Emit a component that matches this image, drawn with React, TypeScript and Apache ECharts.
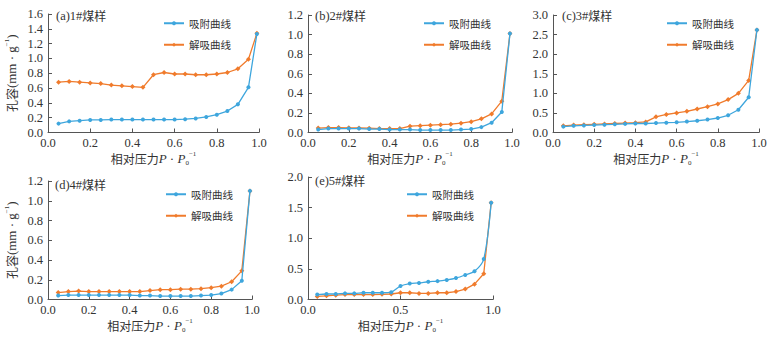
import React, { useEffect, useRef } from "react";
import * as echarts from "echarts";

const P = [0.05, 0.1, 0.15, 0.2, 0.25, 0.3, 0.35, 0.4, 0.45, 0.5, 0.55, 0.6, 0.65, 0.7, 0.75, 0.8, 0.85, 0.9, 0.95, 0.99];

const titles = ["(a)1#煤样", "(b)2#煤样", "(c)3#煤样", "(d)4#煤样", "(e)5#煤样"];

const adsA = [0.12, 0.15, 0.16, 0.17, 0.17, 0.175, 0.175, 0.175, 0.175, 0.175, 0.175, 0.175, 0.18, 0.19, 0.21, 0.24, 0.29, 0.38, 0.61, 1.33];
const desA = [0.68, 0.69, 0.68, 0.67, 0.66, 0.64, 0.63, 0.62, 0.61, 0.78, 0.81, 0.79, 0.79, 0.78, 0.78, 0.79, 0.81, 0.86, 0.99, 1.34];

const adsB = [0.03, 0.04, 0.04, 0.04, 0.04, 0.035, 0.035, 0.03, 0.03, 0.03, 0.025, 0.025, 0.025, 0.025, 0.03, 0.035, 0.055, 0.1, 0.21, 1.01];
const desB = [0.045, 0.05, 0.05, 0.048, 0.046, 0.044, 0.04, 0.04, 0.04, 0.065, 0.07, 0.075, 0.08, 0.085, 0.095, 0.11, 0.14, 0.19, 0.32, 1.01];

const adsC = [0.15, 0.17, 0.18, 0.19, 0.2, 0.21, 0.22, 0.23, 0.23, 0.24, 0.25, 0.26, 0.28, 0.3, 0.33, 0.37, 0.44, 0.58, 0.9, 2.62];
const desC = [0.17, 0.19, 0.2, 0.21, 0.22, 0.23, 0.24, 0.25, 0.27, 0.4, 0.46, 0.5, 0.54, 0.6, 0.66, 0.73, 0.84, 1.0, 1.33, 2.62];

const adsD = [0.04, 0.045, 0.045, 0.045, 0.045, 0.045, 0.045, 0.045, 0.04, 0.04, 0.035, 0.035, 0.035, 0.035, 0.04, 0.045, 0.06, 0.1, 0.19, 1.1];
const desD = [0.07, 0.08, 0.085, 0.08, 0.08, 0.08, 0.08, 0.08, 0.08, 0.09, 0.1, 0.1, 0.105, 0.105, 0.11, 0.12, 0.135, 0.18, 0.29, 1.1];

const adsE = [0.08, 0.09, 0.09, 0.1, 0.1, 0.11, 0.11, 0.11, 0.12, 0.22, 0.26, 0.27, 0.29, 0.3, 0.32, 0.35, 0.4, 0.46, 0.66, 1.58];
const desE = [0.05, 0.06, 0.07, 0.08, 0.08, 0.08, 0.08, 0.085, 0.09, 0.11, 0.11, 0.1, 0.1, 0.11, 0.11, 0.13, 0.17, 0.25, 0.42, 1.58];

const yMax = [1.6, 1.2, 3.0, 1.2, 2.0];
const yInterval = [0.2, 0.2, 0.5, 0.2, 0.5];
const xInterval = [0.2, 0.2, 0.2, 0.2, 0.5];

const adsAll = [adsA, adsB, adsC, adsD, adsE];
const desAll = [desA, desB, desC, desD, desE];

const ADS_NAME = "吸附曲线";
const DES_NAME = "解吸曲线";

const BLUE = "#3ea6dd";
const ORANGE = "#f07b2c";
const SERIF = "Liberation Serif, Times New Roman, serif";
const CJK = "Noto Sans CJK SC";

const grids = [
  { left: 48, top: 14, width: 211, height: 118.5 },
  { left: 308, top: 15, width: 204, height: 117.5 },
  { left: 553, top: 15, width: 206, height: 117.5 },
  { left: 48, top: 181, width: 204, height: 118.5 },
  { left: 308, top: 177, width: 185, height: 122.5 },
];

const titlePos = [
  { left: 56, top: 9 },
  { left: 315, top: 9 },
  { left: 562, top: 9 },
  { left: 55, top: 178 },
  { left: 315, top: 174 },
];

const legendPos = [
  { left: 163, top: 18 },
  { left: 423, top: 18 },
  { left: 666, top: 18 },
  { left: 165, top: 189 },
  { left: 406, top: 189 },
];

const richName = {
  c: { fontFamily: CJK, fontSize: 12, color: "#333", lineHeight: 16 },
  i: { fontFamily: SERIF, fontStyle: "italic", fontSize: 13, color: "#333", lineHeight: 16 },
  d: { fontFamily: SERIF, fontSize: 13, color: "#333", lineHeight: 16 },
  s: { fontFamily: SERIF, fontSize: 7, color: "#333", verticalAlign: "bottom", lineHeight: 16 },
  p: { fontFamily: SERIF, fontSize: 7, color: "#333", verticalAlign: "top", lineHeight: 16 },
};

export default function App() {
  const ref = useRef<HTMLDivElement>(null);
  useEffect(() => {
    if (!ref.current) return;
    const chart = echarts.init(ref.current, null, { renderer: "svg" });
    const fmt = (v: number) => v.toFixed(1);
    const axisCommon = {
      axisLine: { show: true, lineStyle: { color: "#555", width: 1 } },
      axisTick: { show: true, inside: true, length: 4, lineStyle: { color: "#555" } },
      splitLine: { show: false },
      axisLabel: { fontFamily: SERIF, fontSize: 12.5, color: "#333", formatter: fmt },
    };
    const option: any = {
      animation: false,
      backgroundColor: "#fff",
      grid: grids.map((g) => ({ ...g, containLabel: false })),
      title: titles.map((t, i) => ({
        text: "{d|" + t.slice(0, 5) + "}{c|" + t.slice(5) + "}",
        left: titlePos[i].left,
        top: titlePos[i].top,
        padding: 0,
        textStyle: {
          fontSize: 12,
          fontWeight: "normal",
          color: "#333",
          rich: {
            d: { fontFamily: SERIF, fontSize: 12.5, color: "#333" },
            c: { fontFamily: CJK, fontSize: 12, color: "#333" },
          },
        },
      })),
      legend: legendPos.map((lp) => ({
        data: [ADS_NAME, DES_NAME],
        left: lp.left,
        top: lp.top,
        orient: "vertical",
        itemWidth: 20,
        itemHeight: 5,
        itemGap: 11,
        padding: 0,
        textStyle: { fontFamily: CJK, fontSize: 10.5, color: "#333" },
      })),
      xAxis: grids.map((_, i) => ({
        type: "value",
        gridIndex: i,
        min: 0,
        max: 1,
        interval: xInterval[i],
        ...axisCommon,
        axisLabel: { ...axisCommon.axisLabel, margin: 4 },
        name: "{c|相对压力}{i|P}{d| · }{i|P}{s|0}{p|−1}",
        nameLocation: "middle",
        nameGap: 16,
        nameTextStyle: { rich: richName },
      })),
      yAxis: grids.map((_, i) => ({
        type: "value",
        gridIndex: i,
        min: 0,
        max: yMax[i],
        interval: yInterval[i],
        ...axisCommon,
        axisLabel: { ...axisCommon.axisLabel, margin: 5 },
        name: i === 0 || i === 3 ? "{c|孔容}{d|(mm · g}{p|−1}{d|)}" : "",
        nameLocation: "middle",
        nameGap: 29,
        nameTextStyle: { rich: richName },
      })),
      series: [] as any[],
    };
    for (let i = 0; i < 5; i++) {
      option.series.push({
        type: "line",
        name: ADS_NAME,
        xAxisIndex: i,
        yAxisIndex: i,
        data: P.map((x, j) => [x, adsAll[i][j]]),
        symbol: "circle",
        symbolSize: 4,
        smooth: i === 4 ? 0.3 : false,
        lineStyle: { color: BLUE, width: 1.3 },
        itemStyle: { color: BLUE },
        z: 3,
      });
      option.series.push({
        type: "line",
        name: DES_NAME,
        xAxisIndex: i,
        yAxisIndex: i,
        data: P.map((x, j) => [x, desAll[i][j]]),
        symbol: "diamond",
        symbolSize: 5,
        lineStyle: { color: ORANGE, width: 1.3 },
        itemStyle: { color: ORANGE },
        z: 2,
      });
    }
    chart.setOption(option);
    return () => chart.dispose();
  }, []);
  return (
    <div
      ref={ref}
      style={{ position: "fixed", left: 0, top: 0, width: 775, height: 337, background: "#fff" }}
    />
  );
}
